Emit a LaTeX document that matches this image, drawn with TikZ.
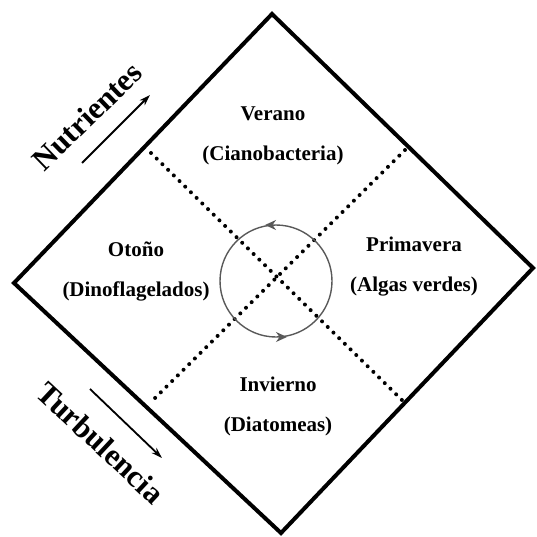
\documentclass[tikz,border=0pt]{standalone}
\usepackage{fontspec}
\setmainfont{Liberation Serif}
\usetikzlibrary{arrows.meta,decorations.markings}

\tikzset{
  borde/.style={line width=4pt, line join=miter},
  puntos/.style={line width=4pt, line cap=round, dash pattern=on 0pt off 8pt},
  estacion/.style={align=center, font=\fontsize{21}{40}\selectfont\bfseries},
  eje/.style={font=\fontsize{31}{36}\selectfont\bfseries},
  flecha/.style={line width=1.8pt, -{Stealth[length=11pt,width=7pt]}},
}

\begin{document}
\begin{tikzpicture}[x=1pt, y=-1pt]
  \useasboundingbox (0,0) rectangle (536,537);
  \def\r{56}
  % rombo
  \coordinate (T) at (272,14);
  \coordinate (R) at (533,268);
  \coordinate (B) at (281,533);
  \coordinate (L) at (14,283);
  \draw[borde] (T) -- (R) -- (B) -- (L) -- cycle;
  % diagonales punteadas
  \coordinate (no) at (151,153);
  \coordinate (ne) at (405,150);
  \coordinate (se) at (407,405);
  \coordinate (so) at (150,403);
  \draw[puntos] (no) -- (se);
  \draw[puntos] (ne) -- (so);
  % ciclo
  \draw[gray!70!black, line width=1.4pt, postaction={decorate},
    decoration={markings,
      mark=at position 0.25 with {\arrow{Stealth[length=11pt,width=10pt,reversed]}},
      mark=at position 0.75 with {\arrow{Stealth[length=11pt,width=10pt,reversed]}}}]
    (276,281) circle [radius=\r];
  % estaciones
  \foreach \nombre/\x/\y/\texto in {verano/273/136/{Verano\\(Cianobacteria)},
      otono/136/271/{Otoño\\(Dinoflagelados)},
      primavera/414/267/{Primavera\\(Algas verdes)},
      invierno/278/406/{Invierno\\(Diatomeas)}} {
    \node[estacion] (\nombre) at (\x,\y) {\texto};
  }
  % ejes
  \node[eje, rotate=44] (nut) at (87,116) {Nutrientes};
  \node[eje, rotate=-43] (tur) at (101,443) {Turbulencia};
  \coordinate (n1) at (82,163);
  \coordinate (n2) at (150,95);
  \coordinate (t1) at (90,389);
  \coordinate (t2) at (162,458);
  \draw[flecha] (n1) -- (n2);
  \draw[flecha] (t1) -- (t2);
\end{tikzpicture}
\end{document}
